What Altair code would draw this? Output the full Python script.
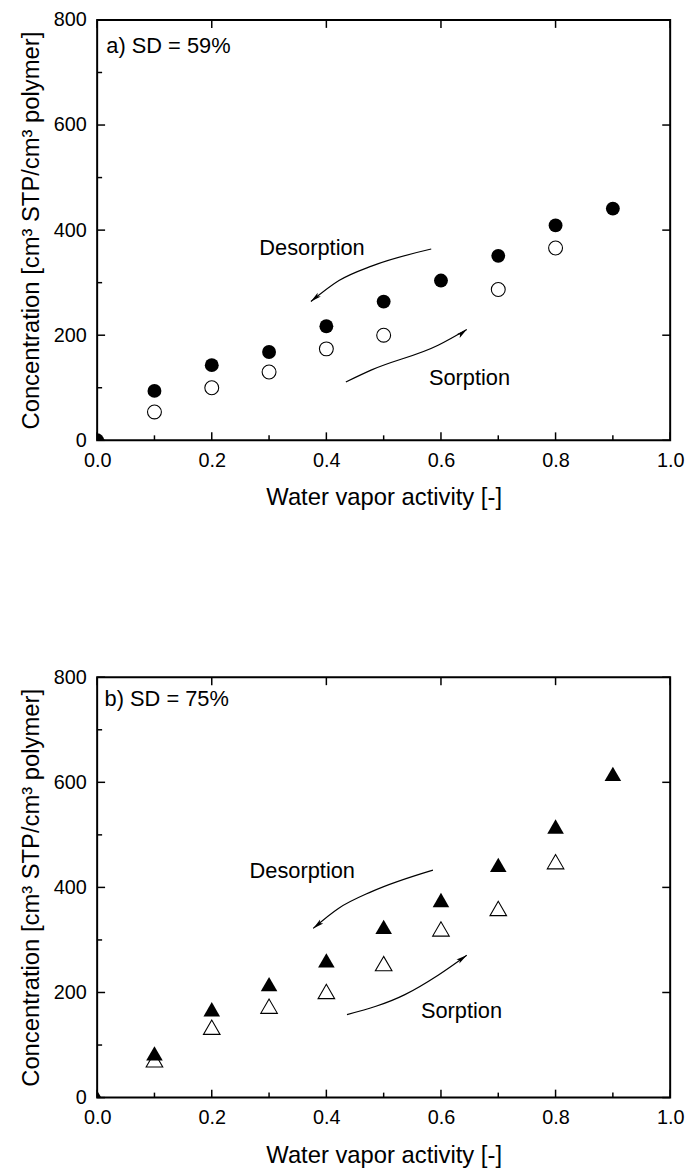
import altair as alt
import pandas as pd

FONT = "Liberation Sans"
W, H = 578, 424

# ---- isotherm data: water vapor activity vs. concentration ----
# a) SD = 59 %
act_a_des = [0.0, 0.1, 0.2, 0.3, 0.4, 0.5, 0.6, 0.7, 0.8, 0.9]
conc_a_des = [0, 94, 143, 168, 217, 264, 304, 351, 409, 441]
act_a_sorp = [0.1, 0.2, 0.3, 0.4, 0.5, 0.7, 0.8]
conc_a_sorp = [54, 100, 130, 174, 200, 287, 366]

# b) SD = 75 %
act_b_des = [0.0, 0.1, 0.2, 0.3, 0.4, 0.5, 0.6, 0.7, 0.8, 0.9]
conc_b_des = [0, 84, 168, 216, 261, 325, 376, 443, 516, 616]
act_b_sorp = [0.1, 0.2, 0.3, 0.4, 0.5, 0.6, 0.7, 0.8]
conc_b_sorp = [72, 134, 174, 202, 255, 321, 360, 449]

# ---- axis ticks ----
x_major = [0.0, 0.2, 0.4, 0.6, 0.8, 1.0]
x_minor = [0.1, 0.3, 0.5, 0.7, 0.9]
y_major = [0, 200, 400, 600, 800]
y_minor = [100, 300, 500, 700]

# ---- annotations (data units) ----
a_label = ("a) SD = 59%", 0.016, 738)
b_label = ("b) SD = 75%", 0.013, 745)
a_des_text = ("Desorption", 0.283, 353)
a_sorp_text = ("Sorption", 0.579, 106)
b_des_text = ("Desorption", 0.266, 418)
b_sorp_text = ("Sorption", 0.565, 151)

# curved hysteresis arrows: (x list, y list, head angle)
a_des_arrow = ([0.583, 0.480, 0.422, 0.373], [364, 332, 304, 264], 230)
a_sorp_arrow = ([0.434, 0.479, 0.595, 0.645], [111, 134, 181, 211], 52)
b_des_arrow = ([0.586, 0.479, 0.421, 0.377], [433, 392, 360, 322], 231)
b_sorp_arrow = ([0.436, 0.537, 0.595, 0.645], [158, 196, 233, 271], 54)

# barbed arrow head, tip at the symbol origin
ARROW_HEAD = "M0,0L0.5,2.2L0,1.7L-0.5,2.2Z"

xs = alt.Scale(domain=[0, 1], nice=False, zero=False)
ys = alt.Scale(domain=[0, 800], nice=False, zero=False)


def x_axis():
    return alt.Axis(
        values=x_major, format=".1f", grid=False, domain=False,
        ticks=False, tickSize=0, labelFlush=False, labelOverlap=False,
        labelFont=FONT, labelFontSize=20, labelColor="black", labelPadding=10,
        title="Water vapor activity [-]", titleFont=FONT, titleFontSize=24,
        titleFontWeight="normal", titleColor="black",
        titleX=W / 2, titleY=65, titleBaseline="alphabetic", titleAlign="center",
    )


def y_axis():
    return alt.Axis(
        values=y_major, format="d", grid=False, domain=False,
        ticks=False, tickSize=0, labelFlush=False, labelOverlap=False,
        labelFont=FONT, labelFontSize=20, labelColor="black", labelPadding=11,
        title="Concentration [cm³ STP/cm³ polymer]", titleFont=FONT,
        titleFontSize=24, titleFontWeight="normal", titleColor="black",
        titleX=-59.5, titleY=H / 2, titleBaseline="alphabetic", titleAlign="center",
        titleAngle=270,
    )


def X(field):
    return alt.X(field, type="quantitative", scale=xs)


def Y(field):
    return alt.Y(field, type="quantitative", scale=ys)


def tick_rules_x(values, length, top):
    df = pd.DataFrame({"v": values})
    y0, y1 = (0, length) if top else (H, H - length)
    return alt.Chart(df).mark_rule(color="black", strokeWidth=1.5).encode(
        x=X("v"), y=alt.value(y0), y2=alt.value(y1),
    )


def tick_rules_y(values, length, right):
    df = pd.DataFrame({"v": values})
    x0, x1 = (W, W - length) if right else (0, length)
    return alt.Chart(df).mark_rule(color="black", strokeWidth=1.5).encode(
        y=Y("v"), x=alt.value(x0), x2=alt.value(x1),
    )


def text_layer(items):
    df = pd.DataFrame([{"t": t, "x": x, "y": y} for t, x, y in items])
    return alt.Chart(df).mark_text(
        align="left", baseline="alphabetic", font=FONT, fontSize=22, color="black"
    ).encode(x=X("x"), y=Y("y"), text="t:N")


def arrow_layers(arrow):
    ax, ay, angle = arrow
    df = pd.DataFrame({"x": ax, "y": ay})
    line = alt.Chart(df).mark_line(
        color="black", strokeWidth=1.2, interpolate="monotone"
    ).encode(x=X("x"), y=Y("y"))
    tip = pd.DataFrame({"x": [ax[-1]], "y": [ay[-1]]})
    head = alt.Chart(tip).mark_point(
        shape=ARROW_HEAD, size=100, filled=True, color="black", opacity=1, angle=angle
    ).encode(x=X("x"), y=Y("y"))
    return [line, head]


def panel(des_x, des_y, sorp_x, sorp_y, shape, size, label, des_text,
          sorp_text, des_arrow, sorp_arrow):
    sorp = alt.Chart(pd.DataFrame({"a": sorp_x, "c": sorp_y})).mark_point(
        shape=shape, size=size, filled=True, fill="white", stroke="black",
        strokeWidth=1.1, opacity=1, clip=True,
    ).encode(
        x=alt.X("a:Q", scale=xs, axis=x_axis()),
        y=alt.Y("c:Q", scale=ys, axis=y_axis()),
    )
    des = alt.Chart(pd.DataFrame({"a": des_x, "c": des_y})).mark_point(
        shape=shape, size=size, filled=True, color="black", opacity=1, clip=True,
    ).encode(x=X("a"), y=Y("c"))
    layers = [
        sorp, des,
        tick_rules_x(x_major, 8, False), tick_rules_x(x_minor, 5, False),
        tick_rules_x(x_major, 8, True),
        tick_rules_y(y_major, 8, False), tick_rules_y(y_minor, 5, False),
        tick_rules_y(y_major, 8, True),
        text_layer([label, des_text, sorp_text]),
    ] + arrow_layers(des_arrow) + arrow_layers(sorp_arrow)
    return alt.layer(*layers).properties(width=W, height=H)


panel_a = panel(act_a_des, conc_a_des, act_a_sorp, conc_a_sorp, "circle", 196,
                a_label, a_des_text, a_sorp_text, a_des_arrow, a_sorp_arrow)
panel_b = panel(act_b_des, conc_b_des, act_b_sorp, conc_b_sorp, "triangle-up", 280,
                b_label, b_des_text, b_sorp_text, b_des_arrow, b_sorp_arrow)

chart = alt.vconcat(panel_a, panel_b, spacing=157).properties(
    padding={"left": 18, "top": 4, "right": 5, "bottom": 5},
    background="white",
).configure_view(stroke="black", strokeWidth=2)

chart.save("out.html", embed_options={"renderer": "svg", "actions": False})
